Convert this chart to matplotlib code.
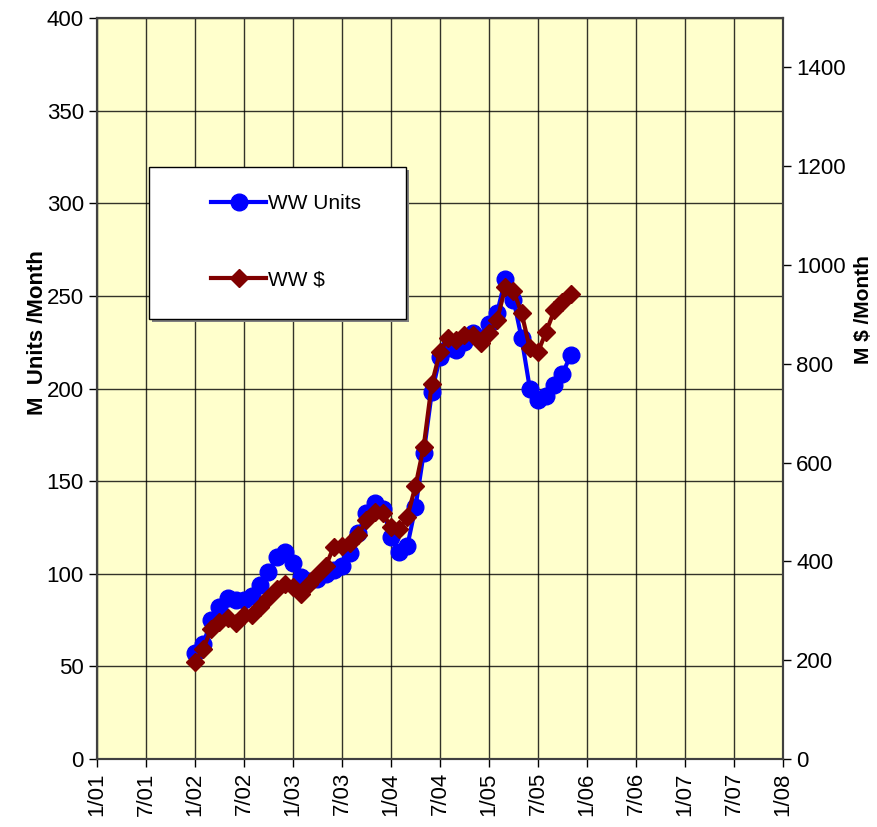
import matplotlib
matplotlib.use("Agg")
import matplotlib.pyplot as plt
from matplotlib.patches import Rectangle
from matplotlib.lines import Line2D

plt.rcParams['font.family'] = ['Liberation Sans', 'DejaVu Sans']

# months counted from 1/01; data is monthly from 1/02 to 11/05
months = list(range(12, 59))
ww_units = [57, 62, 75, 82, 87, 86, 86, 88, 94, 101,
            109, 112, 106, 98, 96, 97, 100, 102, 104, 111,
            122, 133, 138, 135, 120, 112, 115, 136, 165, 198,
            217, 222, 221, 225, 230, 227, 235, 241, 259, 248,
            227, 200, 194, 196, 202, 208, 218]
ww_dollars = [197, 223, 264, 278, 285, 276, 291, 291, 307, 325,
              345, 355, 349, 335, 354, 372, 390, 430, 432, 437,
              453, 484, 500, 497, 470, 465, 490, 553, 632, 760,
              824, 852, 848, 858, 858, 842, 862, 889, 955, 948,
              902, 831, 824, 865, 908, 926, 942]

tick_pos = list(range(0, 85, 6))
tick_labels = ['1/01', '7/01', '1/02', '7/02', '1/03', '7/03', '1/04', '7/04',
               '1/05', '7/05', '1/06', '7/06', '1/07', '7/07', '1/08']

fig = plt.figure(figsize=(8.77, 8.27), dpi=100)
ax = fig.add_axes([97/877, 1-759/827, (783-97)/877, (759-18)/827])
ax.set_facecolor('#FFFFCC')
ax2 = ax.twinx()

ax.plot(months, ww_units, color='#0000FF', lw=3, marker='o', ms=12, zorder=3)
ax2.plot(months, ww_dollars, color='#800000', lw=3, marker='D', ms=9.5, zorder=3)

ax.set_xlim(0, 84)
ax.set_ylim(0, 400)
ax2.set_ylim(0, 1500)
ax.set_xticks(tick_pos)
ax.set_xticklabels(tick_labels, rotation=90, fontsize=16)
ax.set_yticks(range(0, 401, 50))
ax2.set_yticks(range(0, 1401, 200))
ax.tick_params(axis='y', labelsize=16, direction='out', length=6, width=1)
ax2.tick_params(axis='y', labelsize=16, direction='out', length=6, width=1)
ax.tick_params(axis='x', direction='out', length=6, width=1)
ax.grid(True, color='black', lw=1, alpha=0.8)
ax.set_axisbelow(True)

for a in (ax, ax2):
    for s in a.spines.values():
        s.set_color('#404040')
        s.set_linewidth(1.5)

ax.set_ylabel('M  Units /Month', fontsize=16, fontweight='bold')
ax.yaxis.set_label_coords(-0.072, 0.576)
ax2.set_ylabel('M $ /Month', fontsize=15, fontweight='bold')
ax2.yaxis.set_label_coords(1.103, 0.606)

# legend box
fig.patches.append(Rectangle((152/877, 1-322/827), 257/877, 152/827, transform=fig.transFigure,
                             facecolor='#808080', edgecolor='none', zorder=5))
fig.patches.append(Rectangle((149/877, 1-319/827), 257/877, 152/827, transform=fig.transFigure,
                             facecolor='white', edgecolor='black', lw=1, zorder=6))
handles = [Line2D([], [], color='#0000FF', lw=3, marker='o', ms=12),
           Line2D([], [], color='#800000', lw=3, marker='D', ms=9.5)]
leg = fig.legend(handles, ['WW Units', 'WW $'], loc='upper left',
                 bbox_to_anchor=(201/877, 1-184/827), frameon=False, fontsize=15,
                 handlelength=2.6, handletextpad=0.1, labelspacing=2.75, borderpad=0)
leg.set_zorder(7)

fig.savefig('out.png', dpi=100)
